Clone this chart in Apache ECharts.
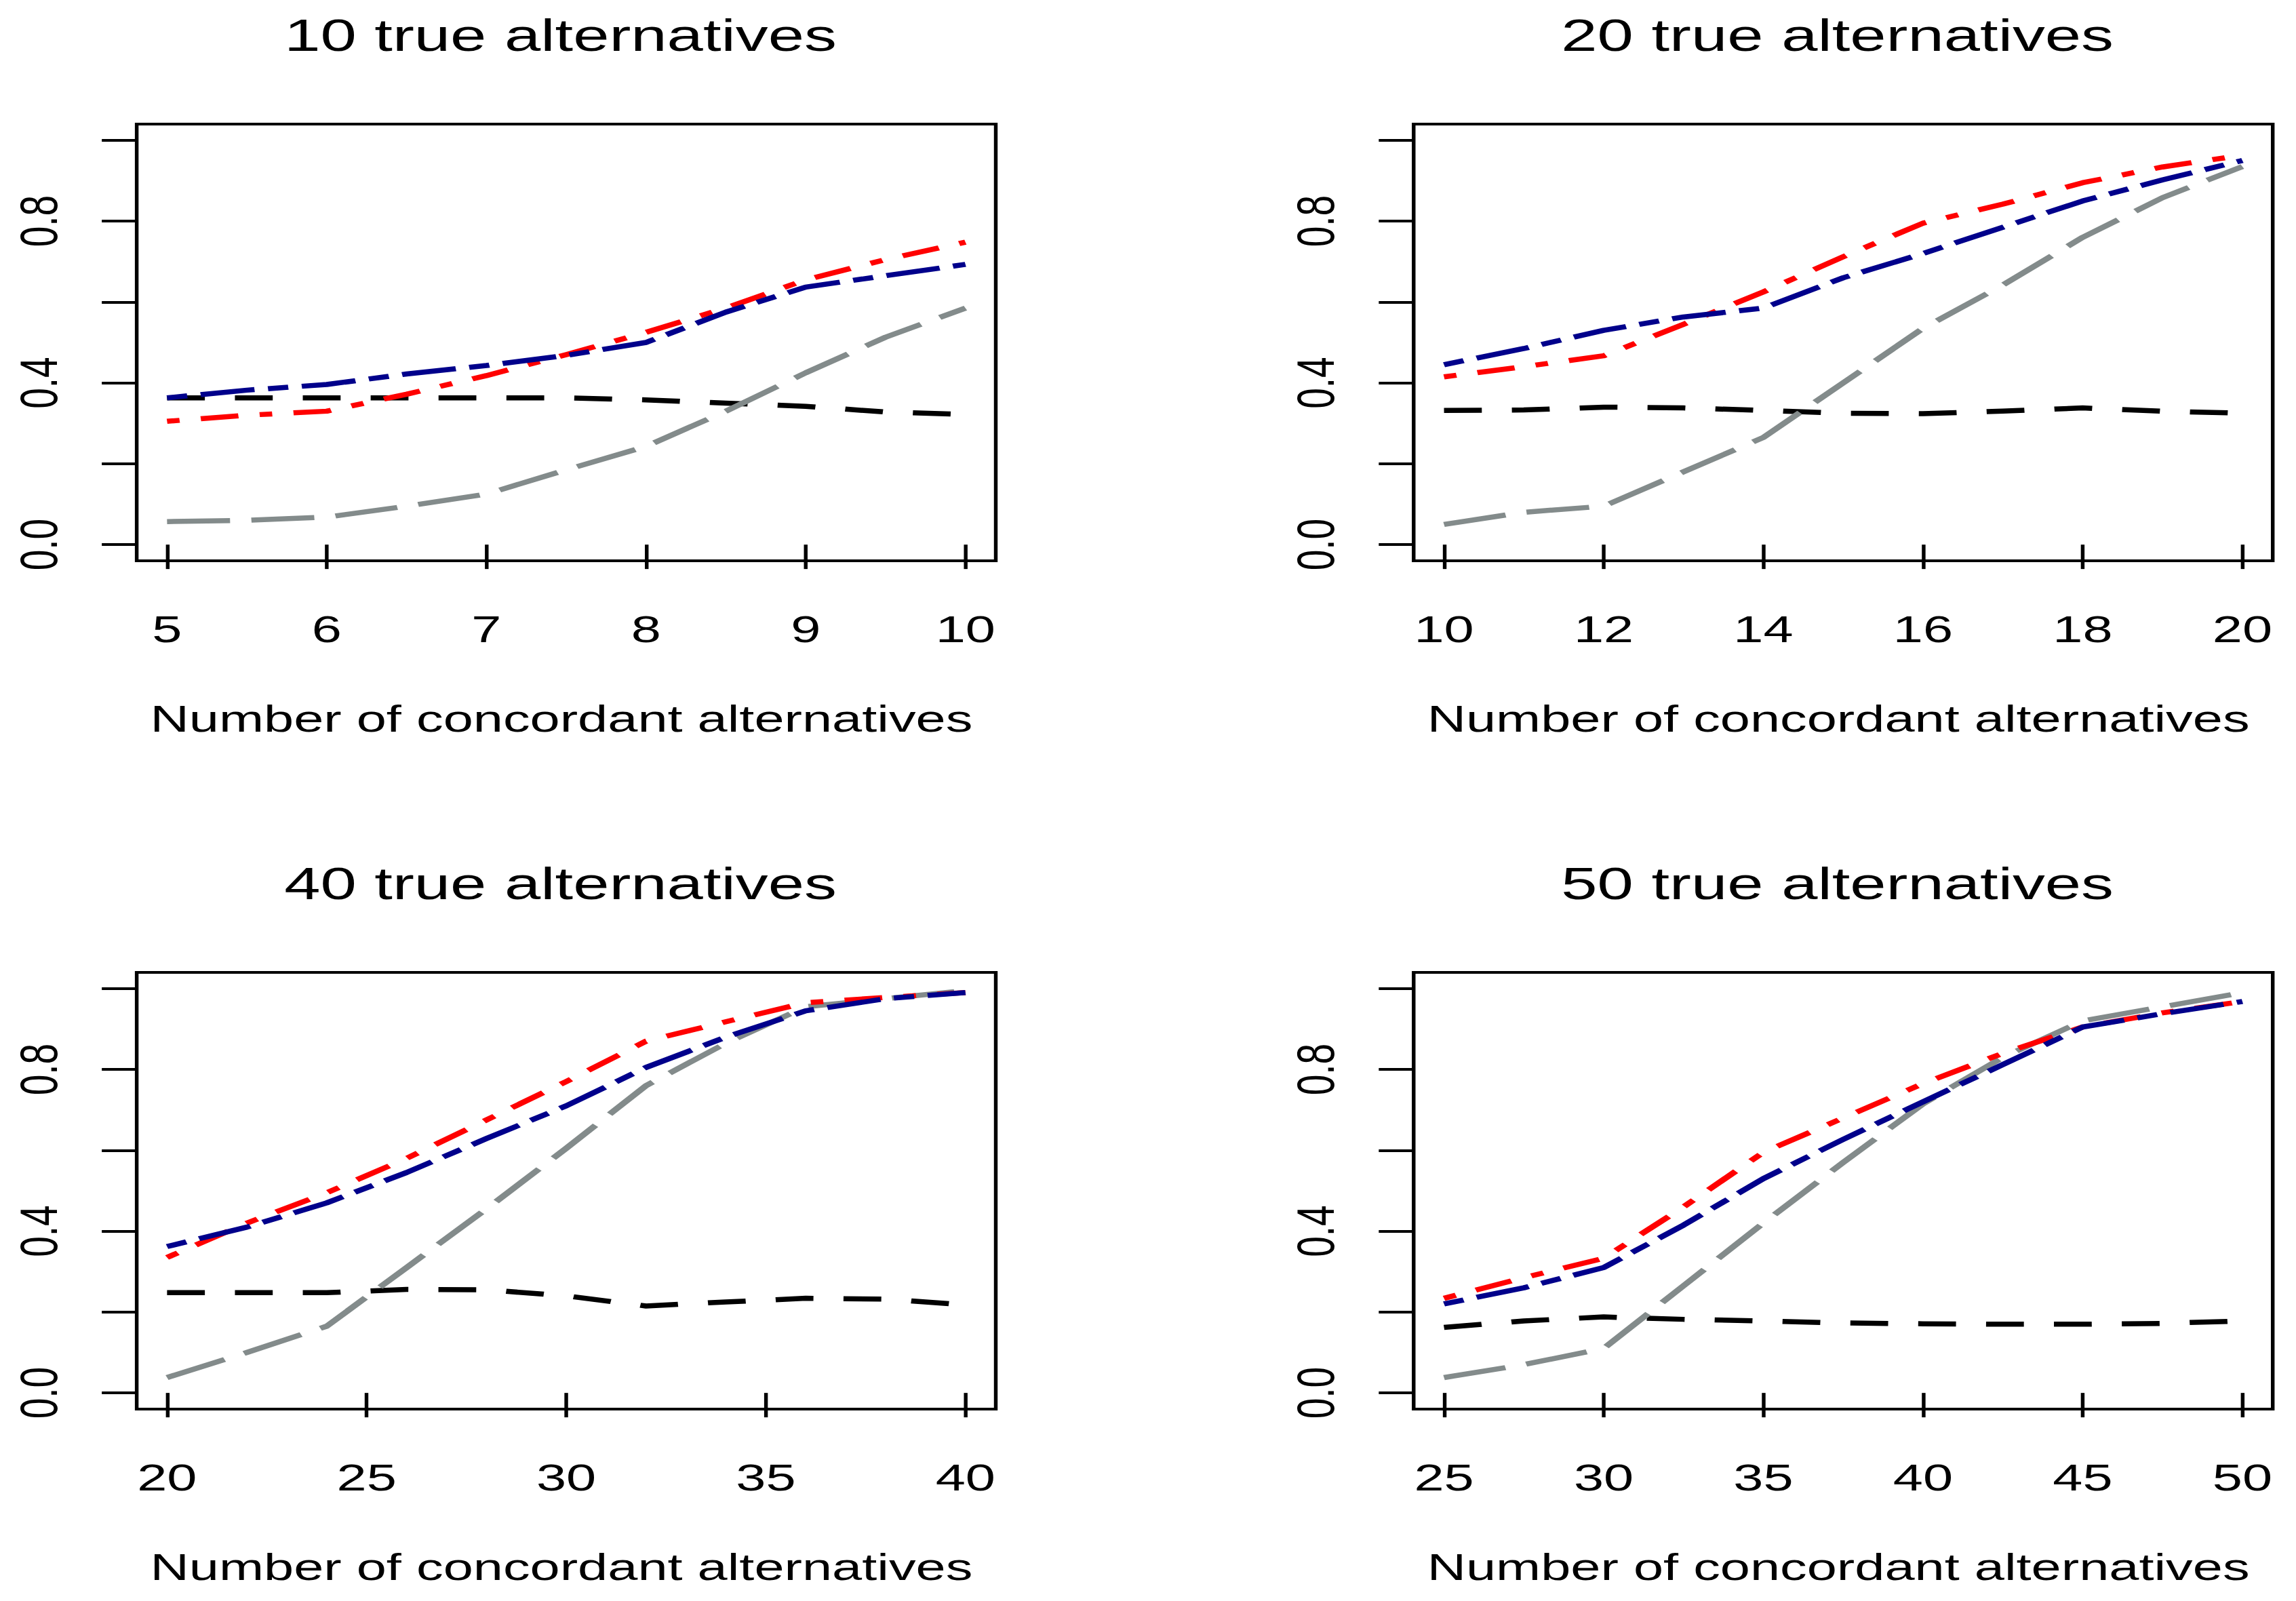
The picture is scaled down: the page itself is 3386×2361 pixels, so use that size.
<!DOCTYPE html>
<html>
<head>
<meta charset="utf-8">
<script src="https://cdn.jsdelivr.net/npm/echarts@6/dist/echarts.min.js"></script>
<style>
html,body{margin:0;padding:0;background:#fff;overflow:hidden;width:3386px;height:2361px;}
#c{width:2368px;height:2361px;transform:scaleX(1.4299);transform-origin:0 0;}
</style>
</head>
<body>
<div id="c"></div>
<script>
// ---- data ----
const panelTitles = ['10 true alternatives', '20 true alternatives', '40 true alternatives', '50 true alternatives'];
const xAxisName = 'Number of concordant alternatives';

const x1 = [5, 5.5, 6, 6.5, 7, 7.5, 8, 8.5, 9, 9.5, 10];
const black1 = [0.363, 0.363, 0.363, 0.363, 0.363, 0.363, 0.358, 0.350, 0.342, 0.328, 0.322];
const grey1  = [0.057, 0.060, 0.068, 0.095, 0.125, 0.185, 0.243, 0.330, 0.425, 0.513, 0.585];
const red1   = [0.305, 0.320, 0.330, 0.372, 0.418, 0.470, 0.525, 0.585, 0.655, 0.705, 0.748];
const blue1  = [0.363, 0.382, 0.396, 0.422, 0.443, 0.468, 0.500, 0.575, 0.637, 0.665, 0.693];

const x2 = [10, 11, 12, 13, 14, 15, 16, 17, 18, 19, 20];
const black2 = [0.332, 0.333, 0.340, 0.338, 0.332, 0.325, 0.324, 0.330, 0.338, 0.330, 0.325];
const grey2  = [0.050, 0.080, 0.095, 0.180, 0.265, 0.400, 0.535, 0.642, 0.760, 0.858, 0.935];
const red2   = [0.415, 0.440, 0.467, 0.545, 0.625, 0.712, 0.795, 0.842, 0.895, 0.934, 0.963];
const blue2  = [0.445, 0.485, 0.530, 0.563, 0.585, 0.660, 0.720, 0.785, 0.850, 0.902, 0.950];

const x3 = [20, 22, 24, 26, 28, 30, 32, 34, 36, 38, 40];
const black3 = [0.248, 0.248, 0.248, 0.256, 0.255, 0.240, 0.215, 0.225, 0.234, 0.232, 0.218];
const grey3  = [0.038, 0.100, 0.165, 0.310, 0.455, 0.605, 0.760, 0.865, 0.955, 0.975, 0.995];
const red3   = [0.335, 0.420, 0.495, 0.580, 0.675, 0.770, 0.870, 0.918, 0.965, 0.978, 0.990];
const blue3  = [0.362, 0.410, 0.470, 0.545, 0.629, 0.710, 0.805, 0.880, 0.945, 0.975, 0.990];

const x4 = [25, 27.5, 30, 32.5, 35, 37.5, 40, 42.5, 45, 47.5, 50];
const black4 = [0.162, 0.178, 0.188, 0.182, 0.178, 0.173, 0.171, 0.170, 0.170, 0.172, 0.178];
const grey4  = [0.038, 0.070, 0.110, 0.265, 0.420, 0.570, 0.715, 0.830, 0.920, 0.955, 0.990];
const red4   = [0.234, 0.285, 0.333, 0.460, 0.595, 0.680, 0.765, 0.840, 0.905, 0.940, 0.968];
const blue4  = [0.220, 0.260, 0.310, 0.415, 0.530, 0.627, 0.720, 0.812, 0.905, 0.938, 0.968];

const xTicks1 = [5, 6, 7, 8, 9, 10];
const xTicks2 = [10, 12, 14, 16, 18, 20];
const xTicks3 = [20, 25, 30, 35, 40];
const xTicks4 = [25, 30, 35, 40, 45, 50];
const yTicks = [0, 0.2, 0.4, 0.6, 0.8, 1.0];
const yTickLabels = [0, 0.4, 0.8];

// ---- layout / style ----
const FONT = '"Liberation Sans", Arial, sans-serif';
const panels = [
  {x: x1, s: [black1, grey1, red1, blue1], ticks: xTicks1, left: 141, top: 183},
  {x: x2, s: [black2, grey2, red2, blue2], ticks: xTicks2, left: 1458, top: 183},
  {x: x3, s: [black3, grey3, red3, blue3], ticks: xTicks3, left: 141, top: 1434},
  {x: x4, s: [black4, grey4, red4, blue4], ticks: xTicks4, left: 1458, top: 1434}
];
const GW = 886, GH = 644;
const styles = [
  {color: '#000000', dash: [39, 31]},
  {color: '#838B8B', dash: [65, 22]},
  {color: '#FF0000', dash: [13, 22, 39, 22]},
  {color: '#00008B', dash: [21, 14, 56, 14]}
];
const names = ['Series 1', 'Series 2', 'Series 3', 'Series 4'];

const grid = [], xAxis = [], yAxis = [], series = [], title = [];
panels.forEach((p, i) => {
  grid.push({left: p.left, top: p.top, width: GW, height: GH, show: true,
    borderColor: '#000', borderWidth: 3.8, backgroundColor: 'transparent', containLabel: false});
  const lo = p.x[0], hi = p.x[p.x.length - 1], pad = (hi - lo) * 0.038;
  xAxis.push({type: 'value', gridIndex: i, min: lo - pad, max: hi + pad,
    axisLine: {show: false},
    splitLine: {show: false},
    axisTick: {show: true, inside: false, length: 36, customValues: p.ticks,
      lineStyle: {color: '#000', width: 3.8}},
    axisLabel: {show: true, customValues: p.ticks, margin: 73, fontFamily: FONT, fontSize: 55.5,
      color: '#000', formatter: v => String(Math.round(v))},
    name: xAxisName, nameLocation: 'middle', nameGap: 205,
    nameTextStyle: {fontFamily: FONT, fontSize: 55.5, color: '#000', padding: [0, 10, 0, 0]}
  });
  yAxis.push({type: 'value', gridIndex: i, min: -0.04, max: 1.04,
    axisLine: {show: false},
    splitLine: {show: false},
    axisTick: {show: true, inside: false, length: 36, customValues: yTicks,
      lineStyle: {color: '#000', width: 3.8}},
    axisLabel: {show: true, customValues: yTickLabels, rotate: 90, margin: 74, fontFamily: FONT,
      fontSize: 55, color: '#000', formatter: v => v.toFixed(1)}
  });
  title.push({text: panelTitles[i], left: p.left + GW / 2 - 6, top: p.top - 165, textAlign: 'center',
    padding: 0, textStyle: {fontFamily: FONT, fontSize: 67, fontWeight: 'normal', color: '#000'}});
  p.s.forEach((vals, k) => {
    series.push({
      name: names[k], type: 'line', xAxisIndex: i, yAxisIndex: i,
      data: p.x.map((xv, j) => [xv, vals[j]]),
      showSymbol: false, symbol: 'none', smooth: false, clip: false,
      lineStyle: {color: styles[k].color, width: 7.5, type: styles[k].dash, cap: 'butt', join: 'round'},
      itemStyle: {color: styles[k].color},
      emphasis: {disabled: true}, z: 2 + k
    });
  });
});

const chart = echarts.init(document.getElementById('c'), null, {renderer: 'svg'});
chart.setOption({
  animation: false,
  backgroundColor: '#ffffff',
  title, grid, xAxis, yAxis, series
});
</script>
</body>
</html>
